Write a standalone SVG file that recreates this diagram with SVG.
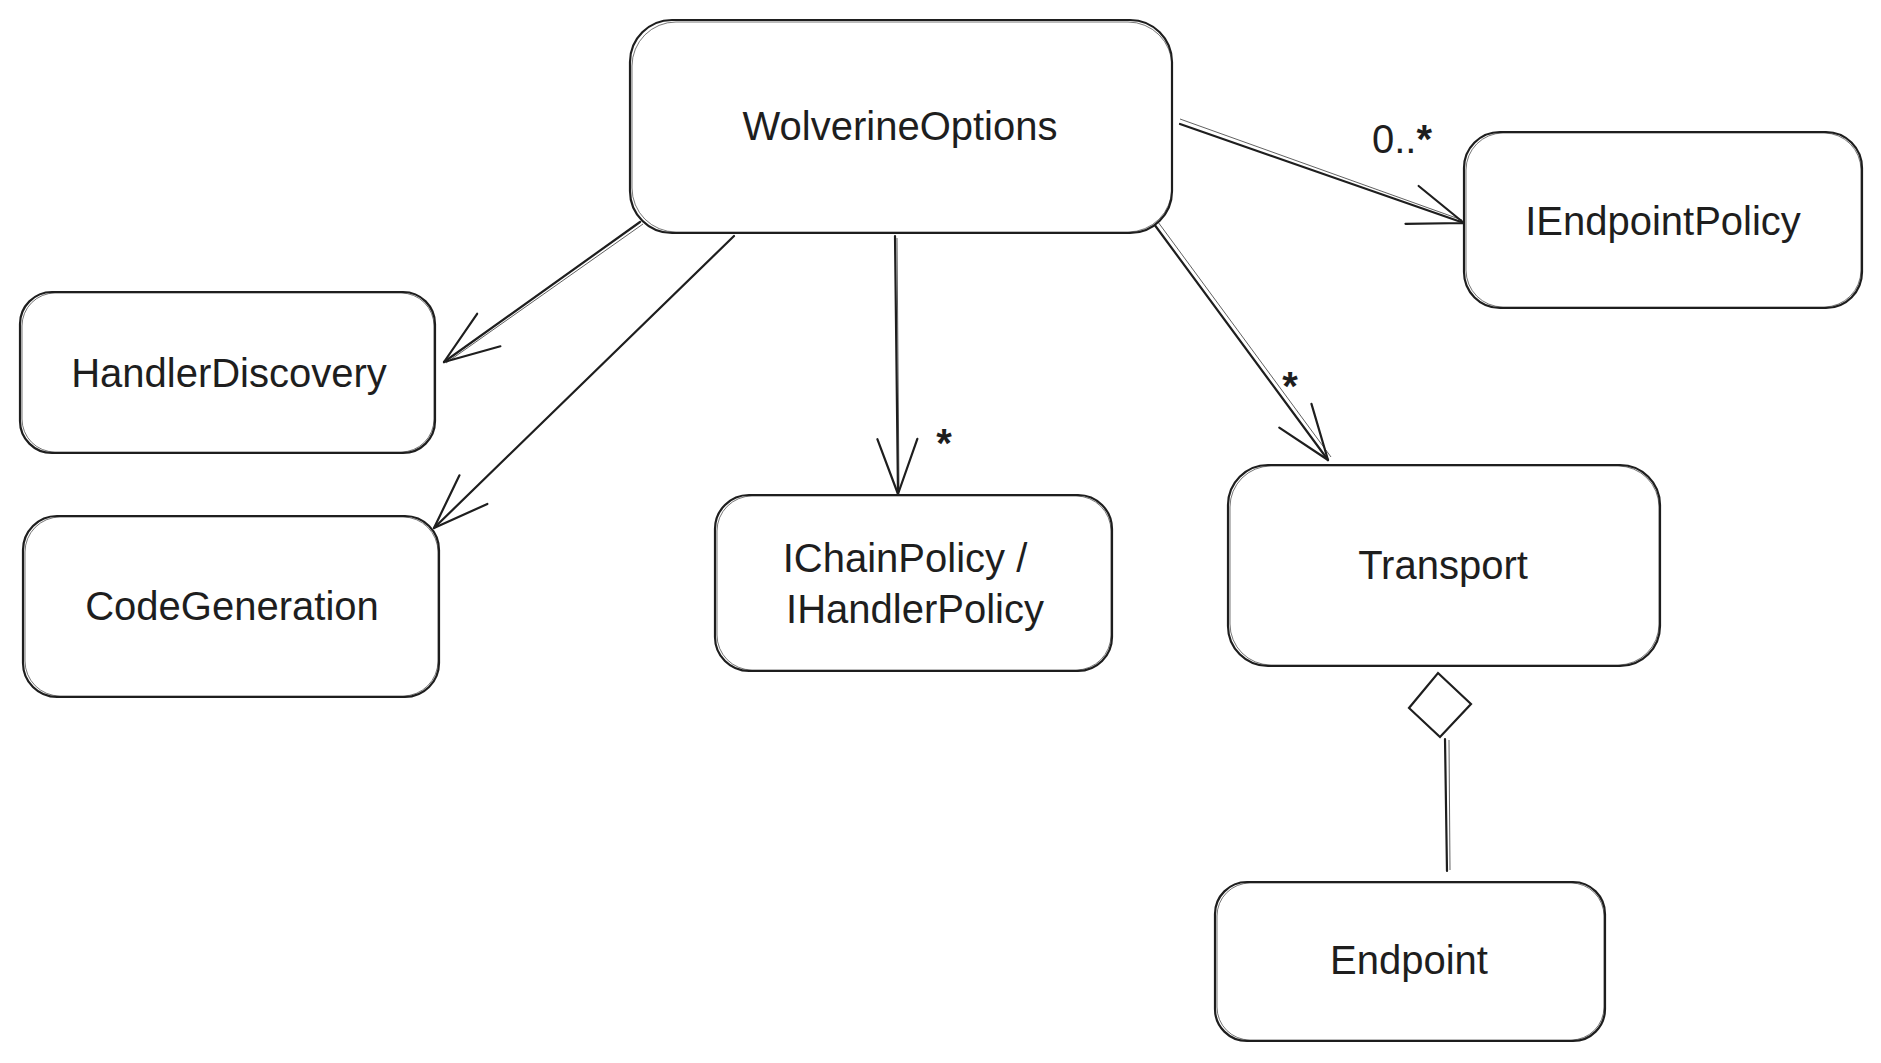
<svg xmlns="http://www.w3.org/2000/svg" width="1881" height="1063" viewBox="0 0 1881 1063">
<style>
.box{fill:#ffffff;stroke:#1e1e1e;stroke-width:2.2;}
.box2{fill:none;stroke:#1e1e1e;stroke-width:1;opacity:0.6;}
.lbl{font-family:"Liberation Sans",Arial,sans-serif;font-size:40px;fill:#1e1e1e;text-anchor:middle;}
.mult{font-family:"Liberation Sans",Arial,sans-serif;fill:#1e1e1e;text-anchor:middle;}
.edge{fill:none;stroke:#1e1e1e;stroke-width:2.2;stroke-linecap:round;}
.edge2{fill:none;stroke:#1e1e1e;stroke-width:1;opacity:0.7;}
</style>
<defs>
<marker id="arrow" markerUnits="userSpaceOnUse" markerWidth="70" markerHeight="60" refX="62" refY="25" orient="auto" overflow="visible">
<path d="M 7 5 Q 40 17 62 25 M 7 45 Q 40 33 62 25" fill="none" stroke="#1e1e1e" stroke-width="2.2" stroke-linecap="round"/>
</marker>
</defs>
<rect width="1881" height="1063" fill="#ffffff"/>

<g id="connectors">
<path class="edge" d="M 640 222 L 444 362" marker-end="url(#arrow)"/>
<path class="edge2" d="M 643 224 L 446 363"/>
<path class="edge" d="M 734 236 L 434 528" marker-end="url(#arrow)"/>
<path class="edge" d="M 895 236 L 898 494" marker-end="url(#arrow)"/>
<path class="edge2" d="M 897 238 L 899 492"/>
<path class="edge" d="M 1154 224 L 1328 460" marker-end="url(#arrow)"/>
<path class="edge2" d="M 1158 222 L 1331 457"/>
<path class="edge" d="M 1180 124 L 1464 223" marker-end="url(#arrow)"/>
<path class="edge2" d="M 1180 119 L 1462 220"/>
<path class="edge" d="M 1445 739 L 1447 871"/>
<path class="edge2" d="M 1449 740 L 1450 870"/>
<path class="edge" d="M 1438 673 L 1471 704 L 1440 737 L 1409 708 Z" fill="#ffffff"/>
<text class="mult" x="944" y="457" font-size="40" font-weight="bold">*</text>
<text class="mult" x="1290" y="400" font-size="40" font-weight="bold">*</text>
<text class="mult" x="1402" y="153" font-size="40">0..<tspan font-weight="bold">*</tspan></text>
</g>

<g id="node-wolverineoptions">
<rect class="box" x="630" y="20" width="542" height="213" rx="42" ry="42"/>
<rect class="box2" x="632" y="22" width="540" height="210" rx="44" ry="44"/>
<text class="lbl" x="900" y="140">WolverineOptions</text>
</g>

<g id="node-handlerdiscovery">
<rect class="box" x="20" y="292" width="415" height="161" rx="32" ry="32"/>
<rect class="box2" x="22" y="293" width="412" height="159" rx="33" ry="33"/>
<text class="lbl" x="229" y="387">HandlerDiscovery</text>
</g>

<g id="node-codegeneration">
<rect class="box" x="23" y="516" width="416" height="181" rx="34" ry="34"/>
<rect class="box2" x="25" y="517" width="413" height="179" rx="35" ry="35"/>
<text class="lbl" x="232" y="620">CodeGeneration</text>
</g>

<g id="node-ichainpolicy">
<rect class="box" x="715" y="495" width="397" height="176" rx="34" ry="34"/>
<rect class="box2" x="717" y="496" width="394" height="174" rx="35" ry="35"/>
<text class="lbl" x="905" y="572">IChainPolicy /</text>
<text class="lbl" x="915" y="623">IHandlerPolicy</text>
</g>

<g id="node-transport">
<rect class="box" x="1228" y="465" width="432" height="201" rx="40" ry="40"/>
<rect class="box2" x="1230" y="466" width="429" height="199" rx="41" ry="41"/>
<text class="lbl" x="1443" y="579">Transport</text>
</g>

<g id="node-iendpointpolicy">
<rect class="box" x="1464" y="132" width="398" height="176" rx="36" ry="36"/>
<rect class="box2" x="1466" y="133" width="395" height="174" rx="37" ry="37"/>
<text class="lbl" x="1663" y="235">IEndpointPolicy</text>
</g>

<g id="node-endpoint">
<rect class="box" x="1215" y="882" width="390" height="159" rx="32" ry="32"/>
<rect class="box2" x="1217" y="883" width="387" height="157" rx="33" ry="33"/>
<text class="lbl" x="1409" y="974">Endpoint</text>
</g>
</svg>
